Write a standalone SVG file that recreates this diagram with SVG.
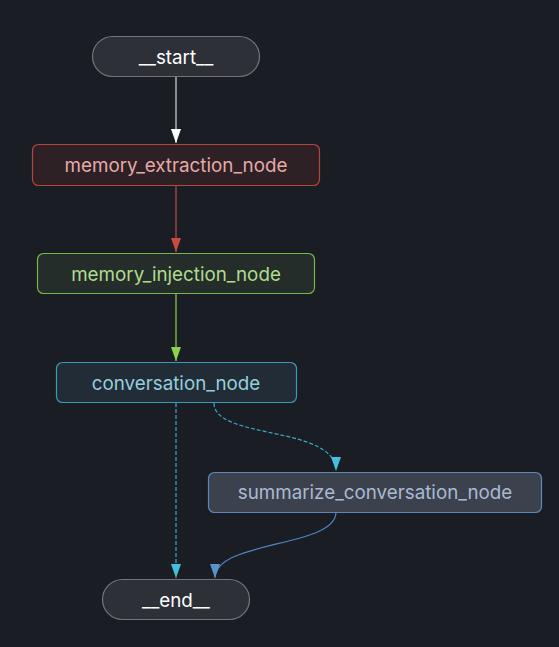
<svg xmlns="http://www.w3.org/2000/svg" width="559" height="647" viewBox="0 0 559 647">
<style>
text{font-family:Inter,"Noto Sans","Liberation Sans",sans-serif;font-size:18.8px;text-anchor:middle;dominant-baseline:central}
.e{fill:none;stroke-width:1.2}
</style>
<defs>
<marker id="aw" viewBox="0 0 14 10" refX="14" refY="5" markerWidth="14" markerHeight="10" markerUnits="userSpaceOnUse" orient="auto"><path d="M0,0L14,5L0,10Z" fill="#ffffff"/></marker>
<marker id="ar" viewBox="0 0 14 10" refX="14" refY="5" markerWidth="14" markerHeight="10" markerUnits="userSpaceOnUse" orient="auto"><path d="M0,0L14,5L0,10Z" fill="#c94a3f"/></marker>
<marker id="ag" viewBox="0 0 14 10" refX="14" refY="5" markerWidth="14" markerHeight="10" markerUnits="userSpaceOnUse" orient="auto"><path d="M0,0L14,5L0,10Z" fill="#8cd04c"/></marker>
<marker id="ac" viewBox="0 0 14 10" refX="14" refY="5" markerWidth="14" markerHeight="10" markerUnits="userSpaceOnUse" orient="auto"><path d="M0,0L14,5L0,10Z" fill="#45c0dc"/></marker>
<marker id="ab" viewBox="0 0 14 10" refX="14" refY="5" markerWidth="14" markerHeight="10" markerUnits="userSpaceOnUse" orient="auto"><path d="M0,0L14,5L0,10Z" fill="#5b92cc"/></marker>
</defs>
<rect width="559" height="647" fill="#1a1d24"/>
<g id="connectors">
<path class="e" d="M176,77V143" stroke="#d8d8d8" marker-end="url(#aw)"/>
<path class="e" d="M176,186V252" stroke="#c94a3f" marker-end="url(#ar)"/>
<path class="e" d="M176,294V361" stroke="#8cd04c" marker-end="url(#ag)"/>
<path class="e" d="M176,403V578" stroke="#3aa8c4" stroke-dasharray="4,2" marker-end="url(#ac)"/>
<path class="e" d="M214,403C214,440 336,425 336,471" stroke="#3aa8c4" stroke-dasharray="4,2" marker-end="url(#ac)"/>
<path class="e" d="M336,512C336,548 215,540 215,578" stroke="#4f86c0" marker-end="url(#ab)"/>
</g>
<g id="start">
<rect x="92.5" y="36.5" width="167" height="40" rx="20" fill="#2e3038" stroke="#74757a" stroke-width="1.2"/>
<text x="176" y="57" fill="#ffffff">__start__</text>
</g>
<g id="memory_extraction_node">
<rect x="32.5" y="144.5" width="287" height="41" rx="6" fill="#2d2126" stroke="#b8443d" stroke-width="1.2"/>
<text x="176" y="165" fill="#e6aaa6">memory_extraction_node</text>
</g>
<g id="memory_injection_node">
<rect x="37.5" y="253.5" width="277" height="40" rx="6" fill="#252d2a" stroke="#76b648" stroke-width="1.2"/>
<text x="176" y="274" fill="#b0dc8e">memory_injection_node</text>
</g>
<g id="conversation_node">
<rect x="56.5" y="362.5" width="240" height="40" rx="6" fill="#212c36" stroke="#3a9cb4" stroke-width="1.2"/>
<text x="176" y="383" fill="#96cede">conversation_node</text>
</g>
<g id="summarize_conversation_node">
<rect x="208.5" y="472.5" width="333" height="40" rx="6" fill="#3c414e" stroke="#5a88bc" stroke-width="1.2"/>
<text x="375" y="492.5" fill="#a9bad2">summarize_conversation_node</text>
</g>
<g id="end">
<rect x="102.5" y="579.5" width="147" height="40" rx="20" fill="#2e3038" stroke="#74757a" stroke-width="1.2"/>
<text x="176" y="600" fill="#ffffff">__end__</text>
</g>
</svg>
